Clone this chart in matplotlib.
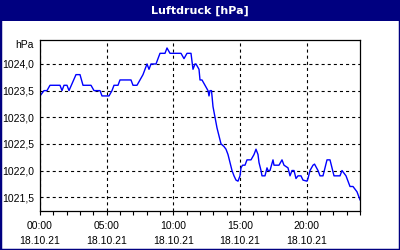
import matplotlib
matplotlib.use("Agg")
import matplotlib.pyplot as plt
from matplotlib.patches import Rectangle

# Luftdruck 18.10.21, Stunden seit 00:00
hours = [0.0, 0.15, 0.3, 0.525, 0.75, 1.5, 1.65, 1.8, 2.025, 2.175, 2.7, 3.0,
         3.225, 3.825, 4.05, 4.5, 4.65, 5.175, 5.4, 5.55, 5.85, 6.0, 6.825,
         6.975, 7.275, 7.5, 7.725, 7.875, 8.025, 8.175, 8.325, 8.7, 8.85, 9.0,
         9.375, 9.525, 9.75, 10.575, 10.8, 11.025, 11.325, 11.475, 11.625,
         11.7, 11.925, 12.0, 12.15, 12.375, 12.6, 12.675, 12.75, 12.86, 12.9,
         12.975, 13.125, 13.275, 13.425, 13.575, 13.8, 13.95, 14.1, 14.25,
         14.4, 14.55, 14.7, 14.85, 15.0, 15.075, 15.19, 15.375, 15.525,
         15.825, 16.05, 16.2, 16.35, 16.425, 16.575, 16.65, 16.875, 17.025,
         17.1, 17.25, 17.475, 17.55, 17.925, 18.15, 18.3, 18.6, 18.75, 18.9,
         19.05, 19.2, 19.35, 19.575, 19.725, 20.025, 20.1, 20.25, 20.475,
         20.59, 20.85, 21.0, 21.225, 21.375, 21.525, 21.75, 21.9, 22.05, 22.5,
         22.65, 22.8, 22.95, 23.1, 23.25, 23.475, 23.625, 23.775, 23.925, 24.0]
pressure = [1023.4, 1023.45, 1023.5, 1023.5, 1023.6, 1023.6, 1023.5, 1023.6,
            1023.6, 1023.5, 1023.8, 1023.8, 1023.6, 1023.6, 1023.5, 1023.5,
            1023.4, 1023.4, 1023.5, 1023.6, 1023.6, 1023.7, 1023.7, 1023.6,
            1023.6, 1023.7, 1023.8, 1023.9, 1024.0, 1023.9, 1024.0, 1024.0,
            1024.1, 1024.2, 1024.2, 1024.3, 1024.2, 1024.2, 1024.1, 1024.2,
            1024.2, 1023.9, 1024.0, 1024.0, 1023.9, 1023.7, 1023.7, 1023.6,
            1023.5, 1023.4, 1023.5, 1023.5, 1023.4, 1023.2, 1023.0, 1022.8,
            1022.65, 1022.5, 1022.45, 1022.4, 1022.3, 1022.15, 1022.0, 1021.9,
            1021.82, 1021.8, 1021.9, 1022.05, 1022.1, 1022.1, 1022.2, 1022.2,
            1022.3, 1022.4, 1022.3, 1022.15, 1022.0, 1021.9, 1021.9, 1022.05,
            1022.0, 1022.0, 1022.2, 1022.1, 1022.1, 1022.2, 1022.1, 1022.05,
            1021.9, 1022.0, 1022.0, 1021.85, 1021.9, 1021.9, 1021.82, 1021.8,
            1021.85, 1022.0, 1022.1, 1022.12, 1022.0, 1021.9, 1021.9, 1022.05,
            1022.2, 1022.2, 1022.05, 1021.9, 1021.9, 1022.0, 1021.95, 1021.9,
            1021.8, 1021.7, 1021.7, 1021.65, 1021.6, 1021.5, 1021.45]

xticks = [0, 5, 10, 15, 20]
xlabels = ["00:00\n18.10.21", "05:00\n18.10.21", "10:00\n18.10.21",
           "15:00\n18.10.21", "20:00\n18.10.21"]
yticks = [1021.5, 1022.0, 1022.5, 1023.0, 1023.5, 1024.0]
ylabels = ["1021,5", "1022,0", "1022,5", "1023,0", "1023,5", "1024,0"]

navy = "#000080"
plt.rcParams["lines.scale_dashes"] = False
plt.rcParams["font.family"] = ["Liberation Sans", "DejaVu Sans"]

fig = plt.figure(figsize=(4, 2.5), dpi=100, facecolor="white")
# Rahmen und Titelleiste
fig.patches.append(Rectangle((0, 0), 1, 1, transform=fig.transFigure,
                             facecolor="none", edgecolor=navy, lw=2.5))
fig.patches.append(Rectangle((0, 1 - 21 / 250), 1, 21 / 250,
                             transform=fig.transFigure, facecolor=navy,
                             edgecolor="none"))
fig.text(0.5, 1 - 10.5 / 250, "Luftdruck [hPa]", color="white",
         fontsize=8, fontweight="bold", ha="center", va="center",
         family=["DejaVu Sans"])

ax = fig.add_axes([40 / 400, 39 / 250, 320 / 400, 171 / 250])
ax.plot(hours, pressure, color="#0000FF", lw=1)
ax.set_xlim(0, 24)
ax.set_ylim(1021.24, 1024.45)

ax.set_xticks(xticks)
ax.set_xticklabels(xlabels, fontsize=7.5, linespacing=1.6)
ax.set_xticks(range(25), minor=True)
ax.set_yticks(yticks)
ax.set_yticklabels(ylabels, fontsize=7.5)
ax.tick_params(axis="x", which="both", direction="out", length=3,
               width=0.8, pad=4)
ax.tick_params(axis="y", length=0, pad=4)
ax.grid(True, color="black", lw=0.8, linestyle=(0, (2.2, 2.2)))
for s in ax.spines.values():
    s.set_linewidth(0.9)

fig.text(34 / 400, 1 - 45 / 250, "hPa", fontsize=7.5, ha="right", va="center")

fig.savefig("out.png", dpi=100, facecolor="white")
